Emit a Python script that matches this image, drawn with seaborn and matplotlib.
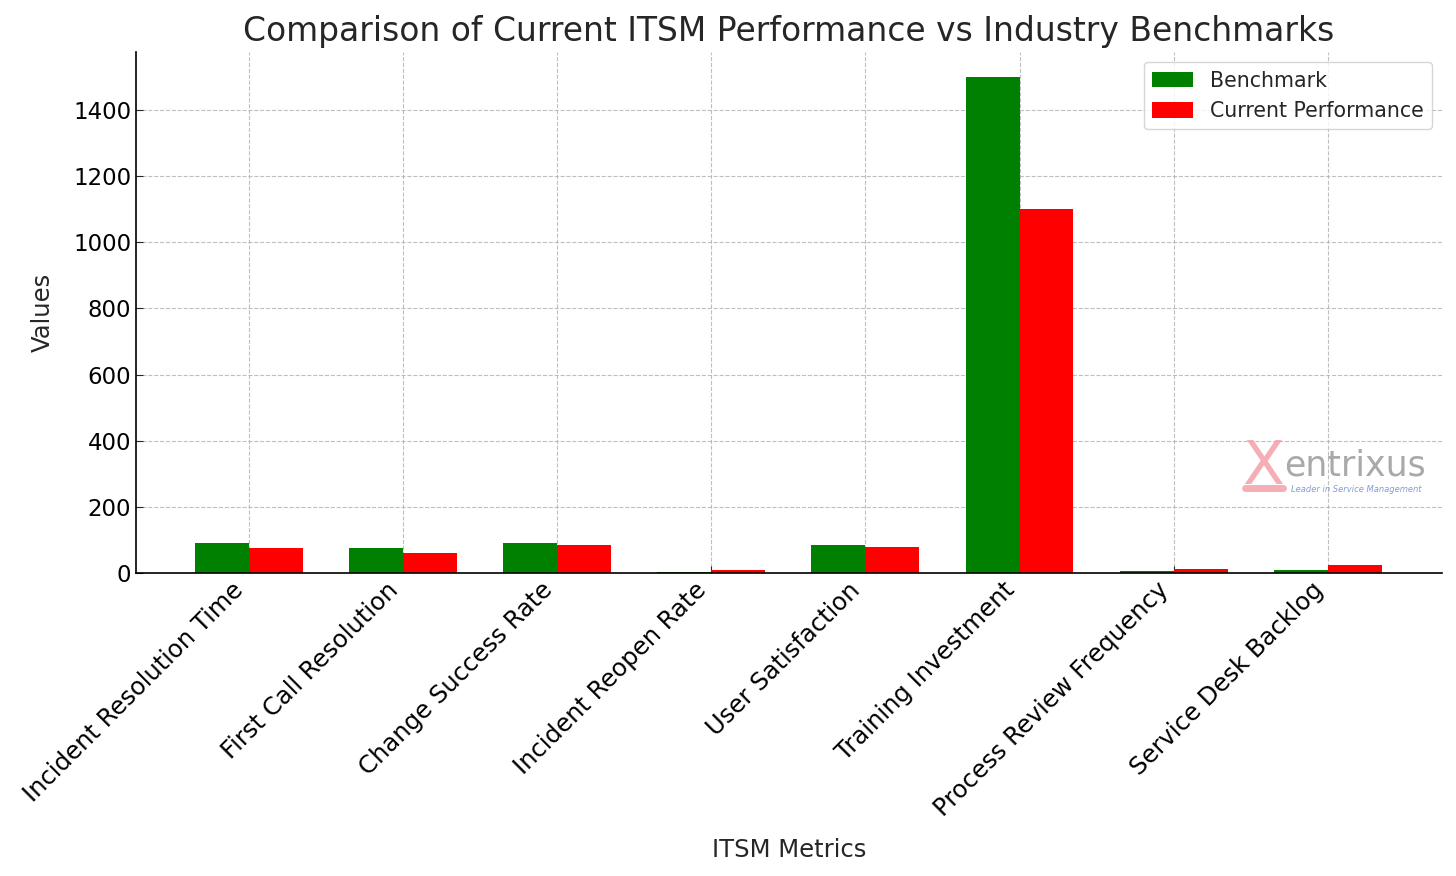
import numpy as np
import pandas as pd
import matplotlib
matplotlib.use("Agg")
import matplotlib.pyplot as plt
import seaborn as sns

metrics = ["Incident Resolution Time", "First Call Resolution", "Change Success Rate",
           "Incident Reopen Rate", "User Satisfaction", "Training Investment",
           "Process Review Frequency", "Service Desk Backlog"]
benchmark = [90, 75, 90, 3, 85, 1500, 5, 8]
current = [75, 60, 85, 8, 80, 1100, 12, 25]

df = pd.DataFrame({
    "Metric": metrics * 2,
    "Value": benchmark + current,
    "Series": ["Benchmark"] * len(metrics) + ["Current Performance"] * len(metrics),
})

sns.set_style("white")
plt.rcParams["font.family"] = ["DejaVu Sans"]

fig = plt.figure(figsize=(14.56, 8.76), dpi=100)
ax = fig.add_axes([0.0934, 0.3459, 0.897, 0.5947])

sns.barplot(data=df, x="Metric", y="Value", hue="Series",
            hue_order=["Benchmark", "Current Performance"],
            palette=["#008000", "#ff0000"], width=0.7, saturation=1,
            errorbar=None, ax=ax, linewidth=0, zorder=2)

ax.set_xlim(-0.73, 7.74)
ax.set_ylim(0, 1575)
ax.set_title("Comparison of Current ITSM Performance vs Industry Benchmarks",
             fontsize=23.7, color="#262626", pad=8)
ax.set_xlabel("ITSM Metrics", fontsize=17.5, color="#262626", labelpad=12)
ax.set_ylabel("Values", fontsize=17.5, color="#262626", labelpad=13)
ax.set_xticks(range(len(metrics)))
ax.set_xticklabels(metrics, rotation=45, ha="right", fontsize=17.5)
ax.tick_params(axis="y", labelsize=16.5, left=True, length=5, direction="in", labelcolor="black")
ax.tick_params(axis="x", bottom=True, length=5, direction="in", labelcolor="black")
ax.grid(True, linestyle="--", color="#b0b0b0", alpha=0.8, zorder=0)
ax.set_axisbelow(True)
for s in ["top", "right"]:
    ax.spines[s].set_visible(False)
for s in ["left", "bottom"]:
    ax.spines[s].set_color("black")
    ax.spines[s].set_linewidth(1.2)

leg = ax.legend(loc="upper right", fontsize=14.8, title=None, frameon=True,
                borderaxespad=0.5, handleheight=0.8)

# watermark
fig.text(0.853, 0.447, "X", fontsize=44, color="#f4a0a8", alpha=0.85,
         fontfamily="Liberation Sans Narrow")
fig.add_artist(plt.Line2D([0.855, 0.881], [0.443, 0.443], color="#f4a0a8",
                          linewidth=5, alpha=0.85))
fig.text(0.882, 0.457, "entrixus", fontsize=25, color="#9a9a9a", alpha=0.85)
fig.text(0.887, 0.438, "Leader in Service Management", fontsize=6, color="#6b8ccf",
         style="italic", alpha=0.85)

fig.savefig("out.png", dpi=100)
